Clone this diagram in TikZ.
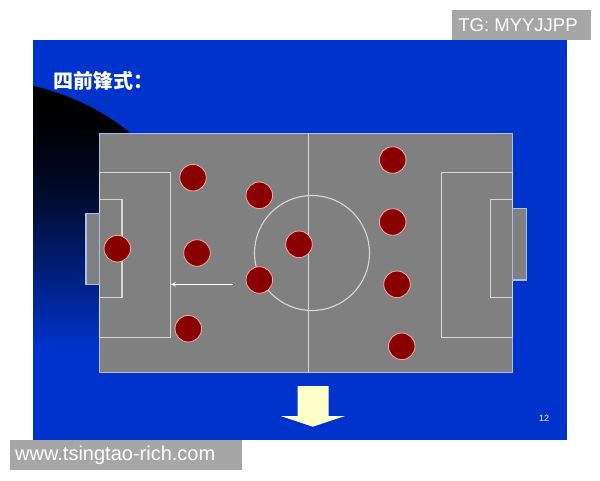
\documentclass[tikz,border=0pt]{standalone}
\usepackage{fontspec}
\setmainfont{Liberation Sans}
\newfontfamily\cjk{Noto Sans CJK SC}
\usetikzlibrary{arrows.meta}
\definecolor{slideblue}{HTML}{0033CC}
\definecolor{fieldgray}{HTML}{808080}
\definecolor{fieldedge}{HTML}{A9BFEF}
\definecolor{linegray}{HTML}{D8D8D8}
\definecolor{playerred}{HTML}{880000}
\definecolor{playeredge}{HTML}{F2A0A0}
\definecolor{tagbox}{HTML}{A6A6A6}
\definecolor{arrowyellow}{HTML}{FFFFCC}
\pgfdeclareverticalshading{darkfade}{100bp}{color(0bp)=(slideblue); color(47bp)=(slideblue); color(56bp)=(slideblue!55!black); color(63bp)=(slideblue!22!black); color(71bp)=(black); color(100bp)=(black)}
\tikzset{
  player/.style={circle, fill=playerred, draw=playeredge, line width=0.9pt, minimum size=26.6pt, inner sep=0pt},
  pitchline/.style={draw=linegray, line width=1.1pt},
  tagtext/.style={text=white, inner sep=0pt},
}
\begin{document}
\begin{tikzpicture}[x=1pt,y=-1pt]
\useasboundingbox (0,0) rectangle (600,480);
\fill[white] (0,0) rectangle (600,480);
% slide
\fill[slideblue] (33,40) rectangle (567,440);
\begin{scope}
  \clip (33,40) rectangle (567,440);
  \shade[shading=darkfade] (-20,320) circle[radius=240];
\end{scope}
% title
\node[tagtext, anchor=west, font=\cjk\bfseries\fontsize{20}{20}\selectfont] (title) at (53,81) {四前锋式：};
% field
\filldraw[fill=fieldgray, draw=fieldedge, line width=1.1pt] (99.3,133.3) rectangle (512.7,372.7);
\draw[pitchline] (308.5,133.3) -- (308.5,372.7);
\draw[pitchline] (312,253) circle[radius=57.5];
% left side
\draw[pitchline] (99.3,172.7) rectangle (170.7,337.7);
\draw[pitchline] (99.3,199.3) rectangle (122,297.7);
\filldraw[fill=fieldgray, draw=fieldedge, line width=1.1pt] (86,213.3) rectangle (99.3,284.3);
% right side
\draw[pitchline] (441.3,172.7) rectangle (512.7,337.7);
\draw[pitchline] (490.3,199.3) rectangle (512.7,297.7);
\filldraw[fill=fieldgray, draw=fieldedge, line width=1.1pt] (512.7,208.7) rectangle (526.3,280);
% players
\node[player] (p1) at (117.3,248.7) {};
\node[player] (p2) at (193,177.7) {};
\node[player] (p3) at (197,253) {};
\node[player] (p4) at (188.3,328.7) {};
\node[player] (p5) at (259.3,195.3) {};
\node[player] (p6) at (259.3,280) {};
\node[player] (p7) at (299,244.3) {};
\node[player] (p8) at (392.7,160) {};
\node[player] (p9) at (392.7,222) {};
\node[player] (p10) at (397,284.3) {};
\node[player] (p11) at (401.7,346.3) {};
% run arrow
\coordinate (runstart) at (232.7,284.3);
\coordinate (runend) at (171,284.3);
\draw[white, line width=0.9pt, -{Stealth[length=5pt,width=4.5pt]}] (runstart) -- (runend);
% block arrow
\fill[arrowyellow] (297.5,386) -- (328.5,386) -- (328.5,416) -- (345,416) -- (312.7,426.7) -- (280.7,416) -- (297.5,416) -- cycle;
% page number
\node[tagtext, font=\fontsize{9}{9}\selectfont] (pagenum) at (544,418) {12};
% watermarks
\fill[tagbox] (452,10) rectangle (591,39.5);
\node[tagtext, font=\fontsize{18.5}{18.5}\selectfont] (tg) at (518,25) {TG: MYYJJPP};
\fill[tagbox] (10,440) rectangle (242,470);
\node[tagtext, anchor=west, font=\fontsize{20}{20}\selectfont] (url) at (15,455) {www.tsingtao-rich.com};
\end{tikzpicture}
\end{document}
